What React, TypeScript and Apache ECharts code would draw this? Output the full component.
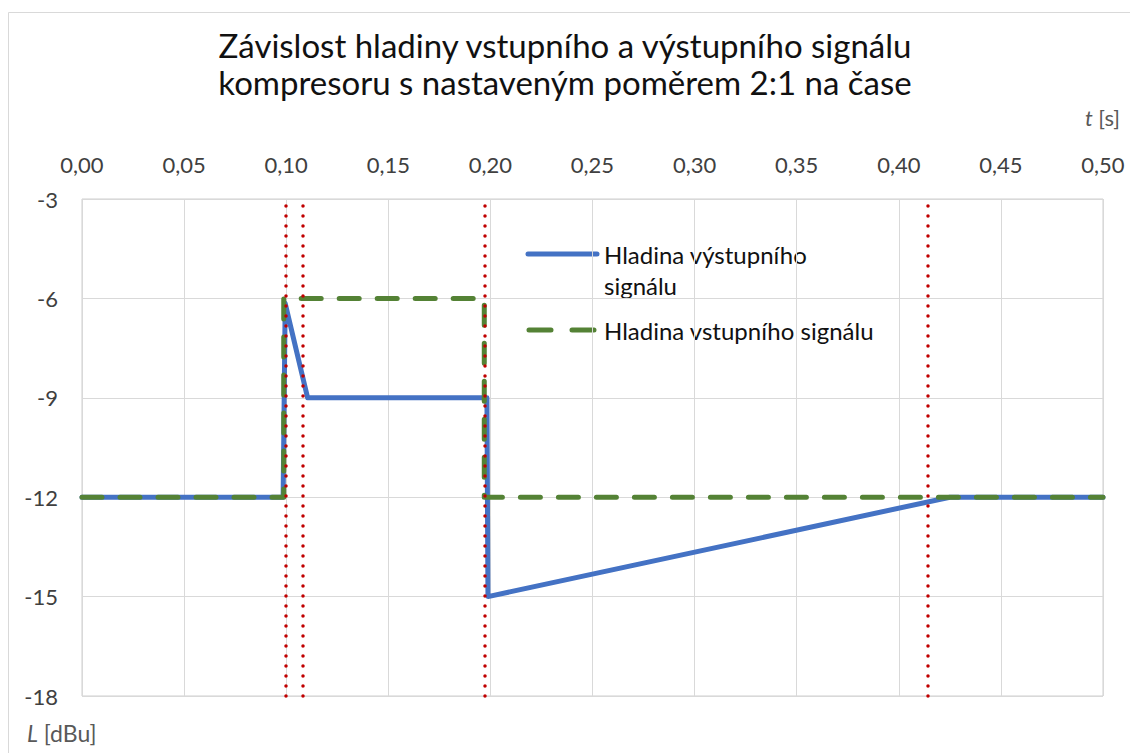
import React, { useEffect, useRef } from "react";
import * as echarts from "echarts";

// Output signal level (blue) – [time s, level dBu]
const outputTimes = [0, 0.0985, 0.0995, 0.1105, 0.1983, 0.1988, 0.425, 0.5];
const outputLevels = [-12, -12, -6.15, -9, -9, -15, -12, -12];

// Input signal level (green dashed)
const inputTimes = [0, 0.0988, 0.0988, 0.197, 0.197, 0.5];
const inputLevels = [-12, -12, -6, -6, -12, -12];

// Red dotted marker lines (time s)
const markerTimes = [0.1, 0.108, 0.197, 0.414];

const xTicks = { min: 0, max: 0.5, interval: 0.05 };
const yTicks = { min: -18, max: -3, interval: 3 };

const titleLines = [
  "Závislost hladiny vstupního a výstupního signálu",
  "kompresoru s nastaveným poměrem 2:1 na čase",
];
const seriesNames = ["Hladina výstupního signálu", "Hladina vstupního signálu"];

const FONT = "Lato, 'Open Sans', sans-serif";
const BLUE = "#4472C4";
const GREEN = "#548235";
const RED = "#C00000";

export default function App() {
  const ref = useRef<HTMLDivElement>(null);
  useEffect(() => {
    if (!ref.current) return;
    const chart = echarts.init(ref.current, undefined, { renderer: "svg" });
    const outData = outputTimes.map((t, i) => [t, outputLevels[i]]);
    const inData = inputTimes.map((t, i) => [t, inputLevels[i]]);
    chart.setOption({
      animation: false,
      backgroundColor: "#ffffff",
      title: {
        text: titleLines.join("\n"),
        left: "center",
        top: 21,
        textStyle: {
          fontFamily: FONT,
          fontSize: 33,
          fontWeight: "normal",
          color: "#111111",
          lineHeight: 37,
        },
      },
      grid: {
        left: 82,
        right: 27,
        top: 199,
        bottom: 57,
        show: true,
        borderColor: "#cfcfcf",
        borderWidth: 1,
      },
      xAxis: {
        type: "value",
        position: "top",
        min: xTicks.min,
        max: xTicks.max,
        interval: xTicks.interval,
        axisLine: { show: false },
        axisTick: { show: false },
        splitLine: { show: true, lineStyle: { color: "#d9d9d9", width: 1 } },
        axisLabel: {
          margin: 24,
          fontFamily: FONT,
          fontSize: 22,
          color: "#404040",
          formatter: (v: number) => v.toFixed(2).replace(".", ","),
        },
      },
      yAxis: {
        type: "value",
        min: yTicks.min,
        max: yTicks.max,
        interval: yTicks.interval,
        axisLine: { show: false },
        axisTick: { show: false },
        splitLine: { show: true, lineStyle: { color: "#d9d9d9", width: 1 } },
        axisLabel: {
          margin: 24,
          fontFamily: FONT,
          fontSize: 22,
          color: "#404040",
        },
      },
      series: [
        {
          name: seriesNames[0],
          type: "line",
          data: outData,
          symbol: "none",
          z: 2,
          lineStyle: { color: BLUE, width: 5, cap: "round", join: "round" },
        },
        {
          name: seriesNames[1],
          type: "line",
          data: inData,
          symbol: "none",
          z: 3,
          lineStyle: { color: GREEN, width: 5, type: [20, 18], cap: "round", join: "round" },
        },
        {
          name: "markers",
          type: "line",
          data: [],
          symbol: "none",
          z: 5,
          markLine: {
            silent: true,
            precision: 4,
            symbol: ["none", "none"],
            label: { show: false },
            lineStyle: { color: RED, width: 3.5, type: [0.1, 9.9], cap: "round" },
            data: markerTimes.map((t) => ({ xAxis: t })),
          },
        },
      ],
      graphic: [
        {
          type: "rect",
          shape: { x: 8.5, y: 12.5, width: 1200, height: 800 },
          style: { fill: "none", stroke: "#d9d9d9", lineWidth: 1 },
          silent: true,
          z: -10,
        },
        {
          type: "text",
          right: 10,
          top: 106,
          style: {
            text: "{i|t} [s]",
            fontFamily: FONT,
            fontSize: 22,
            fill: "#595959",
            rich: {
              i: { fontStyle: "italic", fontFamily: FONT, fontSize: 22, fill: "#595959" },
            },
          },
        },
        {
          type: "text",
          left: 27,
          top: 721,
          style: {
            text: "{i|L} [dBu]",
            fontFamily: FONT,
            fontSize: 23,
            fill: "#595959",
            rich: {
              i: { fontStyle: "italic", fontFamily: FONT, fontSize: 23, fill: "#595959" },
            },
          },
        },
        // legend
        {
          type: "line",
          shape: { x1: 528, y1: 254, x2: 597, y2: 254 },
          style: { stroke: BLUE, lineWidth: 5, lineCap: "round" },
        },
        {
          type: "text",
          x: 604,
          y: 239,
          style: {
            text: "Hladina výstupního\nsignálu",
            fontFamily: FONT,
            fontSize: 24,
            lineHeight: 31,
            fill: "#111111",
          },
        },
        {
          type: "line",
          shape: { x1: 529, y1: 330, x2: 597, y2: 330 },
          style: { stroke: GREEN, lineWidth: 5, lineCap: "round", lineDash: [22, 21] },
        },
        {
          type: "text",
          x: 604,
          y: 315,
          style: {
            text: seriesNames[1],
            fontFamily: FONT,
            fontSize: 24,
            lineHeight: 31,
            fill: "#111111",
          },
        },
      ],
    });
    return () => chart.dispose();
  }, []);
  return (
    <div
      ref={ref}
      style={{ position: "fixed", left: 0, top: 0, width: 1130, height: 753 }}
    />
  );
}
